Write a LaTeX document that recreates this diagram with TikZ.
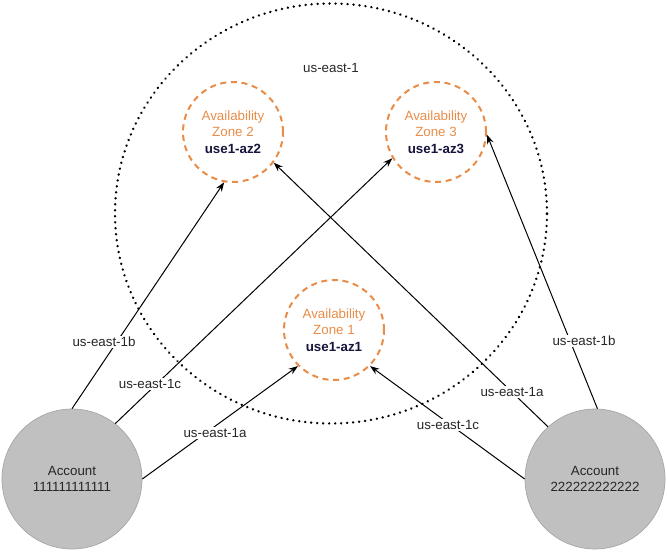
\documentclass[tikz,border=0pt]{standalone}
\usepackage{fontspec}
\setmainfont{Liberation Sans}
\usetikzlibrary{arrows.meta,shapes.geometric}
\definecolor{azorange}{RGB}{232,140,72}
\definecolor{accgray}{RGB}{192,192,192}
\definecolor{accedge}{RGB}{165,165,165}
\definecolor{navy}{RGB}{20,20,60}
\begin{document}
\begin{tikzpicture}[x=0.75pt,y=-0.75pt,
  font=\fontsize{10}{12.3}\selectfont,
  region/.style={ellipse, draw=black, line width=1.9pt, dash pattern=on 0.1pt off 4.4pt, line cap=round,
    minimum width=324pt, minimum height=315pt, inner sep=0pt},
  zone/.style={circle, draw=azorange, line width=1.5pt, dash pattern=on 4.5pt off 3.5pt,
    minimum size=75pt, inner sep=0pt, align=center, text=azorange},
  acct/.style={circle, fill=accgray, draw=accedge, line width=0.5pt, minimum size=105pt,
    inner sep=0pt, align=center, text=black!85},
  conn/.style={-{Stealth[length=7pt,width=5pt]}, line width=0.75pt},
  lbl/.style={fill=white, inner sep=1pt, text=black!85}]
\useasboundingbox (0,0) rectangle (667,552);
\node[region] (reg) at (331,213.5) {};
\node[text=black!85] (regt) at (331,68) {us-east-1};
\node[zone] (z2) at (233,132) {Availability\\Zone 2\\\textcolor{navy}{\bfseries use1-az2}};
\node[zone] (z3) at (436,132) {Availability\\Zone 3\\\textcolor{navy}{\bfseries use1-az3}};
\node[zone] (z1) at (334,330) {Availability\\Zone 1\\\textcolor{navy}{\bfseries use1-az1}};
\node[acct] (a1) at (72,479) {Account\\111111111111};
\node[acct] (a2) at (595,479) {Account\\222222222222};
\draw[conn] (a1.90) -- (z2.260);
\draw[conn] (a1.52) -- (z3.211);
\draw[conn] (a1.0) -- (z1.225);
\draw[conn] (a2.132) -- (z2.323);
\draw[conn] (a2.180) -- (z1.315);
\draw[conn] (a2.88) -- (z3.357);
\node[lbl] (l1) at (104,342) {us-east-1b};
\node[lbl] (l2) at (150,384) {us-east-1c};
\node[lbl] (l3) at (215,433) {us-east-1a};
\node[lbl] (l4) at (512,392) {us-east-1a};
\node[lbl] (l5) at (448,425) {us-east-1c};
\node[lbl] (l6) at (584,341) {us-east-1b};
\end{tikzpicture}
\end{document}
